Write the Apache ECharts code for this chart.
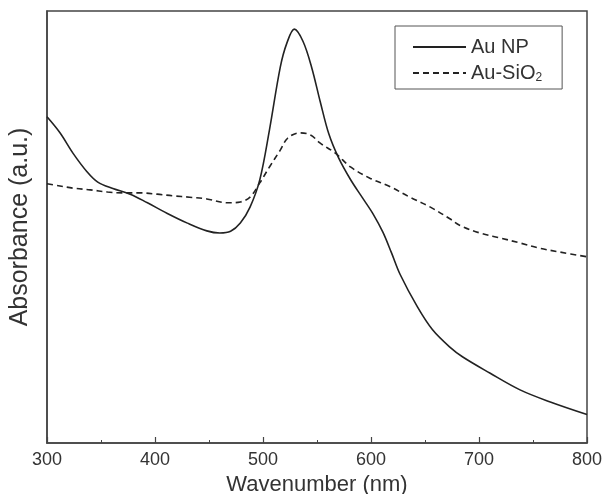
<!DOCTYPE html>
<html>
<head>
<meta charset="utf-8">
<script src="https://cdn.jsdelivr.net/npm/echarts@6/dist/echarts.min.js"></script>
<style>
  html, body { margin: 0; padding: 0; background: #fff; }
  #chart { width: 602px; height: 494px; }
</style>
</head>
<body>
<div id="chart"></div>
<script>
// Au NP (solid)
const npWave = [300, 312, 324, 337, 347, 361, 377, 393, 411, 430, 448, 460, 470, 479, 488, 497, 506, 516, 522, 529, 537, 545, 553, 561, 570, 581, 592, 602, 611, 619, 627, 643, 657, 673, 685, 710, 738, 766, 800];
const npAbs = [0.755, 0.718, 0.671, 0.628, 0.604, 0.589, 0.576, 0.556, 0.532, 0.509, 0.491, 0.486, 0.490, 0.509, 0.546, 0.609, 0.725, 0.870, 0.925, 0.958, 0.930, 0.870, 0.790, 0.715, 0.660, 0.610, 0.568, 0.530, 0.488, 0.440, 0.390, 0.315, 0.262, 0.222, 0.199, 0.162, 0.123, 0.095, 0.066];

// Au-SiO2 (dashed)
const siWave = [300, 312, 324, 340, 356, 370, 386, 402, 417, 432, 448, 467, 479, 488, 497, 506, 516, 523, 534, 544, 553, 567, 581, 599, 618, 636, 655, 673, 682, 701, 719, 738, 756, 775, 800];
const siAbs = [0.600, 0.595, 0.590, 0.586, 0.581, 0.579, 0.579, 0.576, 0.572, 0.569, 0.565, 0.556, 0.558, 0.569, 0.602, 0.639, 0.678, 0.706, 0.718, 0.713, 0.694, 0.671, 0.639, 0.613, 0.593, 0.569, 0.546, 0.519, 0.504, 0.486, 0.475, 0.463, 0.451, 0.442, 0.431];

const xTicks = [300, 400, 500, 600, 700, 800];

const font = '"Liberation Sans", Arial, sans-serif';
const ink = '#333';

const chart = echarts.init(document.getElementById('chart'), null, { renderer: 'canvas' });

chart.setOption({
  backgroundColor: '#fff',
  animation: false,
  textStyle: { fontFamily: font },
  grid: {
    left: 47, right: 15, top: 11, bottom: 51,
    outerBoundsMode: 'none',
    containLabel: false,
    show: true,
    borderColor: '#444',
    borderWidth: 1.5,
  },
  legend: {
    orient: 'vertical',
    left: 395,
    top: 26,
    padding: [11, 20, 5, 17],
    itemGap: 6,
    itemWidth: 53,
    itemHeight: 14,
    borderColor: '#555',
    borderWidth: 1,
    itemStyle: { opacity: 0 },
    data: ['Au NP', 'Au-SiO2'],
    formatter: (name) => (name === 'Au-SiO2' ? 'Au-SiO{sub|2}' : name),
    textStyle: {
      fontFamily: font,
      fontSize: 20,
      color: ink,
      rich: {
        sub: { fontSize: 12, color: ink, fontFamily: font, verticalAlign: 'bottom', padding: [10, 0, 0, 0] },
      },
    },
  },
  xAxis: {
    type: 'value',
    min: 300,
    max: 800,
    interval: 100,
    name: 'Wavenumber (nm)',
    nameLocation: 'middle',
    nameGap: 20,
    nameTextStyle: { fontSize: 22, color: ink, fontFamily: font },
    axisLine: { show: true, lineStyle: { color: '#444', width: 1.5 } },
    axisTick: { show: true, inside: true, length: 6, lineStyle: { color: '#444', width: 1.2 } },
    minorTick: { show: true, splitNumber: 2, length: 3, lineStyle: { color: '#444', width: 1 } },
    splitLine: { show: false },
    axisLabel: {
      fontSize: 18,
      color: ink,
      margin: 8,
      formatter: (v) => (xTicks.includes(v) ? String(v) : ''),
    },
  },
  yAxis: {
    type: 'value',
    min: 0,
    max: 1,
    name: 'Absorbance (a.u.)',
    nameLocation: 'middle',
    nameGap: 14,
    nameTextStyle: { fontSize: 25, color: ink, fontFamily: font },
    axisLine: { show: true, lineStyle: { color: '#444', width: 1.5 } },
    axisTick: { show: false },
    axisLabel: { show: false },
    splitLine: { show: false },
  },
  series: [
    {
      name: 'Au NP',
      type: 'line',
      data: npWave.map((w, i) => [w, npAbs[i]]),
      smooth: 0.35,
      symbol: 'none',
      lineStyle: { color: '#222', width: 1.6, type: 'solid' },
      itemStyle: { color: '#222' },
    },
    {
      name: 'Au-SiO2',
      type: 'line',
      data: siWave.map((w, i) => [w, siAbs[i]]),
      smooth: 0.35,
      symbol: 'none',
      lineStyle: { color: '#222', width: 1.6, type: [6, 4] },
      itemStyle: { color: '#222' },
    },
  ],
});
</script>
</body>
</html>
